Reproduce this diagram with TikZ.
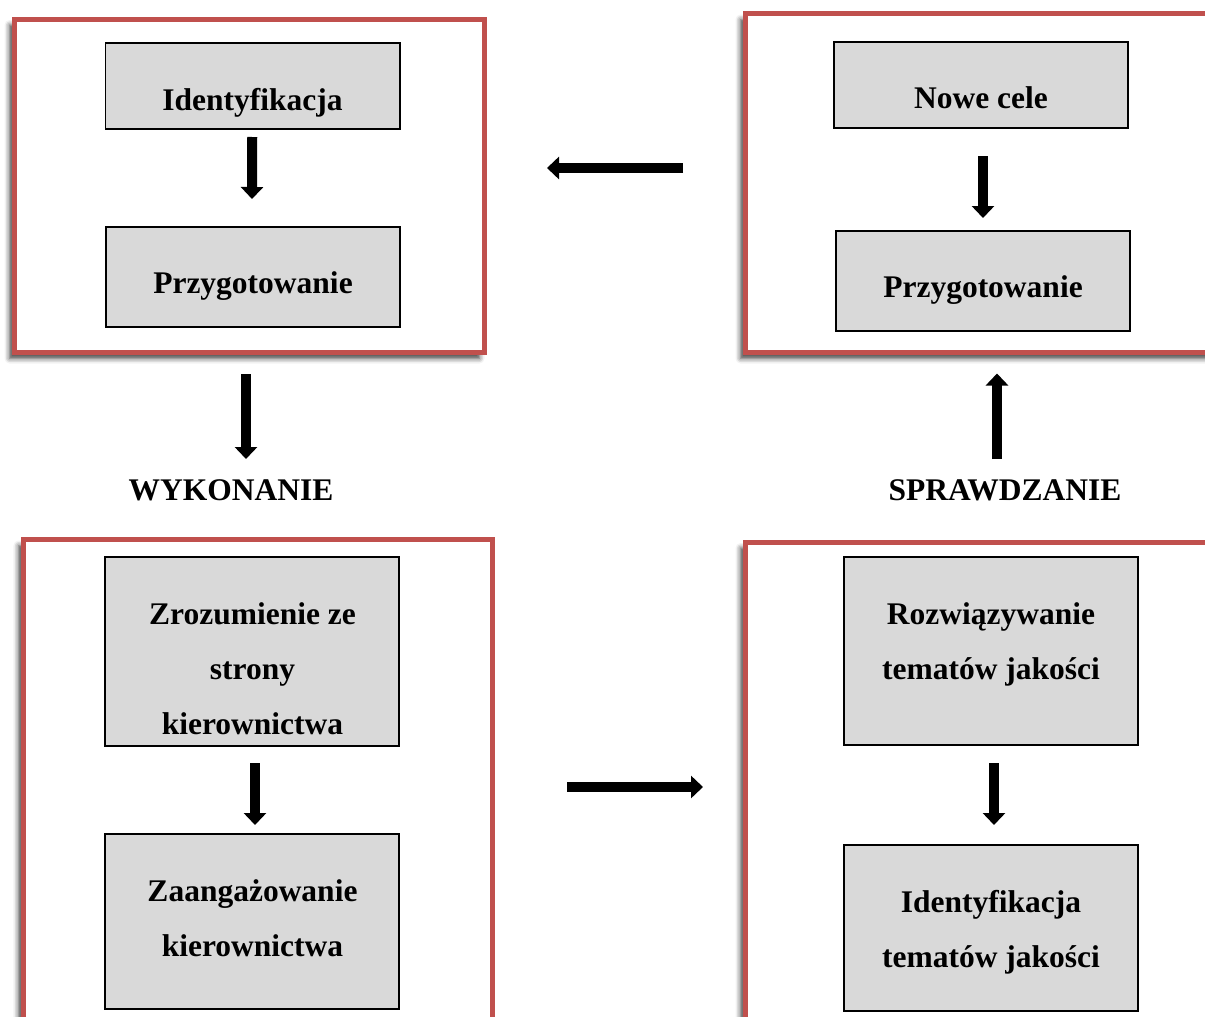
\documentclass[tikz,border=0pt]{standalone}
\usepackage{fontspec}
\setmainfont{Liberation Serif}
\usetikzlibrary{arrows.meta,shadows.blur}

\definecolor{framered}{RGB}{192,80,77}
\definecolor{boxgray}{RGB}{217,217,217}

\begin{document}
\begin{tikzpicture}[x=1pt,y=-1pt,
  framebox/.style={draw=framered, line width=5pt, fill=white, anchor=north west,
    inner sep=0pt, outer sep=0pt,
    blur shadow={shadow xshift=-5pt, shadow yshift=-6pt, shadow blur radius=5pt, shadow opacity=75}},
  stepbox/.style={draw=black, line width=1.1pt, fill=boxgray, anchor=north west,
    inner sep=0pt, outer sep=0pt},
  txt/.style={anchor=base, inner sep=0pt, font=\bfseries\fontsize{31.5pt}{55pt}\selectfont},
  blk/.style={line width=10pt, -{Triangle[width=22pt,length=12pt]}}]

\useasboundingbox (0,0) rectangle (1205,1017);

% phase frames
\node[framebox, minimum width=470pt, minimum height=333.5pt] (ftl) at (14.5,19) {};
\node[framebox, minimum width=480pt, minimum height=339pt]   (ftr) at (745.5,13.5) {};
\node[framebox, minimum width=469pt, minimum height=500pt]   (fbl) at (23.5,539.5) {};
\node[framebox, minimum width=480pt, minimum height=500pt]   (fbr) at (745.5,542) {};

% step boxes
\node[stepbox, minimum width=294.5pt, minimum height=86pt]  (tl1) at (105.5,43) {};
\node[stepbox, minimum width=294pt,   minimum height=100pt] (tl2) at (106,227) {};
\node[stepbox, minimum width=294pt,   minimum height=86pt]  (tr1) at (834,42) {};
\node[stepbox, minimum width=294pt,   minimum height=100pt] (tr2) at (836,231) {};
\node[stepbox, minimum width=294pt,   minimum height=189pt] (bl1) at (105,557) {};
\node[stepbox, minimum width=294pt,   minimum height=175pt] (bl2) at (105,834) {};
\node[stepbox, minimum width=294pt,   minimum height=188pt] (br1) at (844,557) {};
\node[stepbox, minimum width=294pt,   minimum height=166pt] (br2) at (844,845) {};

% box texts
\node[txt] (t-tl1) at (252.5,110) {Identyfikacja};
\node[txt] (t-tl2) at (253,293) {Przygotowanie};
\node[txt] (t-tr1) at (981,108) {Nowe cele};
\node[txt] (t-tr2) at (983,297) {Przygotowanie};
\node[txt] (t-bl1a) at (252.5,624) {Zrozumienie ze};
\node[txt] (t-bl1b) at (252.5,679) {strony};
\node[txt] (t-bl1c) at (252.5,734) {kierownictwa};
\node[txt] (t-bl2a) at (252.5,901) {Zaangażowanie};
\node[txt] (t-bl2b) at (252.5,956) {kierownictwa};
\node[txt] (t-br1a) at (991,624) {Rozwiązywanie};
\node[txt] (t-br1b) at (991,679) {tematów jakości};
\node[txt] (t-br2a) at (991,912) {Identyfikacja};
\node[txt] (t-br2b) at (991,967) {tematów jakości};

% phase labels
\node[txt] (wyk) at (231,500) {WYKONANIE};
\node[txt] (spr) at (1005,500) {SPRAWDZANIE};

% arrows inside the frames
\draw[blk] ([xshift=-0.5pt,yshift=-8pt]tl1.south) -- ([xshift=-1pt,yshift=28pt]tl2.north);
\draw[blk] ([xshift=2pt,yshift=-28pt]tr1.south) -- ([yshift=13pt]tr2.north);
\draw[blk] ([xshift=3pt,yshift=-17pt]bl1.south) -- ([xshift=3pt,yshift=9pt]bl2.north);
\draw[blk] ([xshift=3pt,yshift=-18pt]br1.south) -- ([xshift=3pt,yshift=20pt]br2.north);

% arrows between the phases
\coordinate (lt) at (683,168);
\coordinate (lh) at (547,168);
\coordinate (rt) at (567,787);
\coordinate (rh) at (703,787);
\coordinate (wt) at (ftl.south -| 246,0);
\coordinate (wh) at (wyk.base -| 246,0);
\draw[blk] (lt) -- (lh);
\draw[blk] (rt) -- (rh);
\draw[blk] ([yshift=-21.5pt]wt) -- ([yshift=41pt]wh);
\draw[blk] ([yshift=41pt]spr.base -| 997,0) -- ([yshift=-21pt]ftr.south -| 997,0);

\end{tikzpicture}
\end{document}
